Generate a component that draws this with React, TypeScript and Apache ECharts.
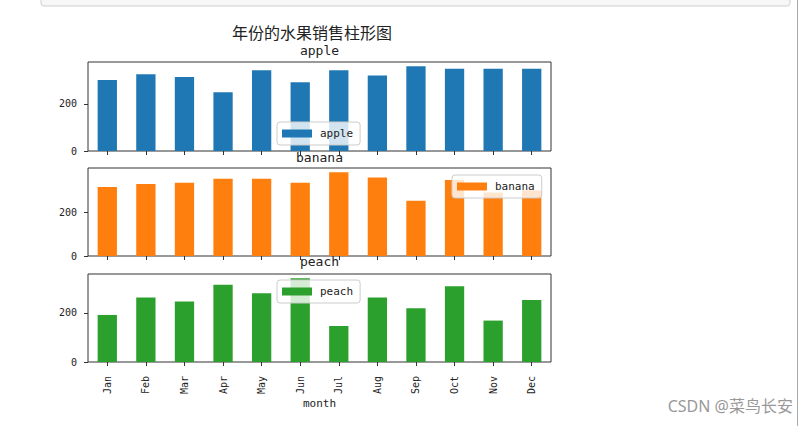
import React, { useEffect, useRef } from "react";
import * as echarts from "echarts";

const months = ["Jan", "Feb", "Mar", "Apr", "May", "Jun", "Jul", "Aug", "Sep", "Oct", "Nov", "Dec"];
const appleSales = [302, 326, 314, 250, 343, 292, 343, 321, 360, 349, 349, 349];
const bananaSales = [315, 329, 335, 353, 353, 335, 383, 359, 253, 347, 290, 301];
const peachSales = [192, 263, 247, 315, 281, 342, 147, 263, 219, 309, 169, 253];
const yTicks = [0, 200];
const mainTitle = "年份的水果销售柱形图";
const watermark = "CSDN @菜鸟长安";

const MONO = "'DejaVu Sans Mono', 'Noto Sans CJK SC', monospace";
const TXT = "#222";

const panels = [
  { name: "apple", data: appleSales, color: "#1f77b4", top: 62, height: 89, legend: { left: 277, top: 122 } },
  { name: "banana", data: bananaSales, color: "#ff7f0e", top: 168, height: 88, legend: { left: 452, top: 175 } },
  { name: "peach", data: peachSales, color: "#2ca02c", top: 274, height: 88, legend: { left: 277, top: 280 } },
];

export default function App() {
  const ref = useRef<HTMLDivElement>(null);
  useEffect(() => {
    if (!ref.current) return;
    const chart = echarts.init(ref.current, null, { renderer: "svg" });
    const last = panels.length - 1;
    const option: any = {
      animation: false,
      backgroundColor: "#fff",
      grid: panels.map((p) => ({
        left: 88,
        width: 463,
        top: p.top,
        height: p.height,
        show: true,
        borderColor: "#333",
        borderWidth: 1,
        backgroundColor: "transparent",
        containLabel: false,
      })),
      xAxis: panels.map((p, i) => ({
        type: "category",
        gridIndex: i,
        data: months,
        boundaryGap: true,
        axisLine: { show: false },
        axisTick: { show: true, alignWithLabel: true, length: 4, lineStyle: { color: "#333" } },
        axisLabel: {
          show: i === last,
          rotate: 90,
          margin: 14,
          fontFamily: MONO,
          fontSize: 10,
          color: TXT,
          interval: 0,
        },
        splitLine: { show: false },
        name: i === last ? "month" : "",
        nameLocation: "middle",
        nameGap: 36,
        nameTextStyle: { fontFamily: MONO, fontSize: 11, color: TXT },
      })),
      yAxis: panels.map((p, i) => ({
        type: "value",
        gridIndex: i,
        min: 0,
        max: Math.max(...p.data) * 1.05,
        axisLine: { show: false },
        axisTick: { show: true, length: 4, lineStyle: { color: "#333" }, customValues: yTicks },
        axisLabel: {
          margin: 11,
          fontFamily: MONO,
          fontSize: 10,
          color: TXT,
          customValues: yTicks,
        },
        splitLine: { show: false },
      })),
      legend: panels.map((p) => ({
        data: [p.name],
        left: p.legend.left,
        top: p.legend.top,
        orient: "horizontal",
        icon: "rect",
        itemWidth: 30,
        itemHeight: 8,
        padding: [6, 7, 6, 5],
        backgroundColor: "rgba(255,255,255,0.8)",
        borderColor: "#ccc",
        borderWidth: 1,
        borderRadius: 3,
        textStyle: { fontFamily: MONO, fontSize: 11, color: TXT, padding: [0, 0, 0, 3] },
        z: 10,
      })),
      series: panels.map((p, i) => ({
        type: "bar",
        name: p.name,
        xAxisIndex: i,
        yAxisIndex: i,
        data: p.data,
        barWidth: "50%",
        itemStyle: { color: p.color },
      })),
      graphic: [
        {
          type: "rect",
          shape: { x: 41, y: -6, width: 749, height: 12, r: 3 },
          style: { fill: "#f7f7f7", stroke: "#cfcfcf", lineWidth: 1 },
          silent: true,
        },
        {
          type: "line",
          shape: { x1: 797.5, y1: 0, x2: 797.5, y2: 426 },
          style: { stroke: "#aaa", lineWidth: 1 },
          silent: true,
        },
        {
          type: "text",
          x: 312,
          y: 32,
          style: { text: mainTitle, fontFamily: "'Noto Sans CJK SC'", fontSize: 16, fill: TXT, align: "center", verticalAlign: "middle" },
        },
        ...panels.map((p, i) => ({
          type: "text",
          x: 319.5,
          y: [50, 157, 261][i],
          z: 20,
          style: { text: p.name, fontFamily: MONO, fontSize: 13, fill: TXT, align: "center", verticalAlign: "middle" },
        })),
        {
          type: "text",
          x: 793,
          y: 406,
          style: { text: watermark, fontFamily: "'Noto Sans', 'Noto Sans CJK SC'", fontSize: 16, fill: "#999", align: "right", verticalAlign: "middle" },
        },
      ],
    };
    chart.setOption(option);
    return () => chart.dispose();
  }, []);
  return <div ref={ref} style={{ position: "fixed", left: 0, top: 0, width: 809, height: 426 }} />;
}
